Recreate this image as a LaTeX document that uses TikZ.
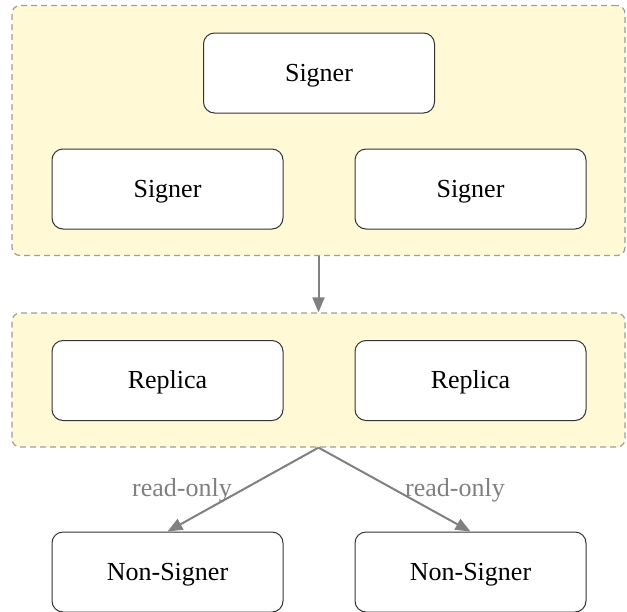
\documentclass[tikz,border=0pt]{standalone}
\usepackage{fontspec}
\setmainfont{Liberation Serif}
\usetikzlibrary{arrows.meta}
\definecolor{groupfill}{HTML}{FFF9D6}
\definecolor{groupline}{HTML}{9E9E9E}
\definecolor{linkgray}{HTML}{808080}
\definecolor{boxline}{HTML}{333333}
\begin{document}
\begin{tikzpicture}[x=1pt,y=-1pt,
  group/.style={draw=groupline,fill=groupfill,dash pattern=on 6pt off 4pt,rounded corners=8pt,line width=1.2pt},
  member/.style={draw=boxline,fill=white,rounded corners=11pt,line width=1pt,minimum width=231pt,minimum height=80pt,inner sep=0pt,text height=16pt,text depth=0pt,font=\fontsize{26}{30}\selectfont},
  link/.style={draw=linkgray,line width=2pt,-{Triangle[length=15pt,width=12pt]}},
  lbl/.style={text=linkgray,font=\fontsize{26}{30}\selectfont}]
\useasboundingbox (0,0) rectangle (627,611);
% the two dashed groups
\node[group,minimum width=613pt,minimum height=250pt,inner sep=0pt] (g1) at (318.5,130.5) {};
\node[group,minimum width=613pt,minimum height=134pt,inner sep=0pt] (g2) at (318.5,380) {};
% signers
\node[member] (s0) at (319,73) {Signer};
\node[member] (s1) at (167.5,189) {Signer};
\node[member] (s2) at (470.5,189) {Signer};
% replicas
\node[member] (r1) at (167.5,380.5) {Replica};
\node[member] (r2) at (470.5,380.5) {Replica};
% non-signers
\node[member] (n1) at (167.5,572) {Non-Signer};
\node[member] (n2) at (470.5,572) {Non-Signer};
% connectors
\draw[link] (g1.south) -- (g2.north);
\draw[link] (g2.south) -- (n1.north);
\draw[link] (g2.south) -- (n2.north);
\node[lbl] (l1) at (182,490) {read-only};
\node[lbl] (l2) at (455,490) {read-only};
\end{tikzpicture}
\end{document}
